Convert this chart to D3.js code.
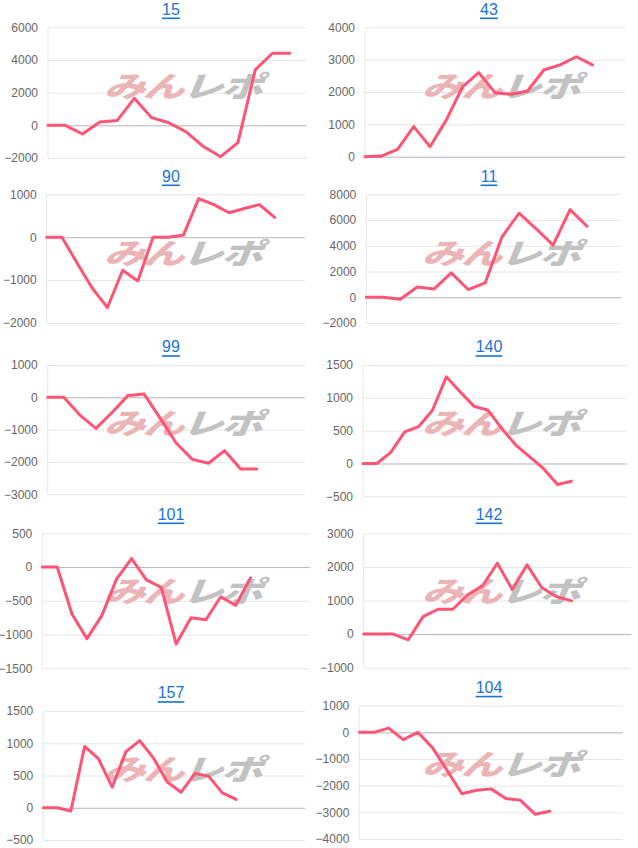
<!DOCTYPE html>
<html><head><meta charset="utf-8">
<script src="https://cdn.jsdelivr.net/npm/d3@7"></script>
<style>
html,body{margin:0;padding:0;background:#fff;}
svg{display:block;}
</style></head>
<body>
<svg id="c" width="638" height="848"></svg>
<script>
// ---- data ----
const titles = ["15","43","90","11","99","140","101","142","157","104"];
const slots  = [16,17,18,16,17,20,19,19,20,19];
const values15  = [0,0,-530,200,290,1650,470,160,-400,-1300,-1920,-1060,3390,4410,4410];
const values43  = [0,20,230,930,310,1130,2160,2600,1980,1930,2030,2680,2840,3090,2840];
const values90  = [0,0,-600,-1190,-1640,-770,-1020,0,0,50,900,760,570,670,760,460];
const values11  = [0,0,-150,800,650,1890,600,1110,4720,6530,5320,4050,6810,5520];
const values99  = [0,0,-550,-960,-470,60,100,-650,-1420,-1920,-2040,-1650,-2220,-2220];
const values140 = [0,0,170,480,560,810,1320,1090,870,810,530,280,100,-80,-320,-270];
const values101 = [0,0,-700,-1060,-720,-175,125,-190,-300,-1140,-750,-780,-440,-570,-160];
const values142 = [0,0,0,-170,520,740,740,1170,1440,2110,1330,2060,1380,1110,990];
const values157 = [0,0,-50,950,760,320,870,1040,770,400,240,530,490,230,130];
const values104 = [0,0,160,-270,0,-580,-1430,-2300,-2170,-2120,-2480,-2550,-3070,-2960];
const ticks15  = [-2000,0,2000,4000,6000];
const ticks43  = [0,1000,2000,3000,4000];
const ticks90  = [-2000,-1000,0,1000];
const ticks11  = [-2000,0,2000,4000,6000,8000];
const ticks99  = [-3000,-2000,-1000,0,1000];
const ticks140 = [-500,0,500,1000,1500];
const ticks101 = [-1500,-1000,-500,0,500];
const ticks142 = [-1000,0,1000,2000,3000];
const ticks157 = [-500,0,500,1000,1500];
const ticks104 = [-4000,-3000,-2000,-1000,0,1000];

const seriesList = [values15,values43,values90,values11,values99,values140,values101,values142,values157,values104];
const tickList   = [ticks15,ticks43,ticks90,ticks11,ticks99,ticks140,ticks101,ticks142,ticks157,ticks104];

// ---- layout (plot rectangles: left, right, top, bottom; title y) ----
const layout = [
  {l:48,   r:307, t:27.3,  b:158,   ty:9,     cx:0},
  {l:365,  r:625, t:27.3,  b:156.7, ty:9,     cx:318},
  {l:46.7, r:305, t:194.3, b:323,   ty:176,   cx:0},
  {l:366.3,r:621, t:194.3, b:323,   ty:176,   cx:318},
  {l:47.7, r:305, t:365,   b:494.3, ty:346.7, cx:0},
  {l:363,  r:627, t:365,   b:496.3, ty:346.7, cx:318},
  {l:42.3, r:310, t:533.3, b:668.3, ty:514,   cx:0},
  {l:363.7,r:631, t:533.3, b:667.7, ty:514,   cx:318},
  {l:43.3, r:305, t:711,   b:840,   ty:692.7, cx:0},
  {l:359.3,r:623, t:705.7, b:839,   ty:687.3, cx:318}
];

const svg = d3.select("#c");
const lineColor = "#ff5473";

titles.forEach((title, i) => {
  const L = layout[i];
  const vals = seriesList[i];
  const tks = tickList[i];
  const g = svg.append("g");

  const x = d3.scaleLinear().domain([0, slots[i]-1]).range([L.l, L.r]);
  const y = d3.scaleLinear().domain(d3.extent(tks)).range([L.b, L.t]);

  const axis = d3.axisLeft(y).tickValues(tks).tickSize(-(L.r - L.l)).tickPadding(10).tickFormat(d3.format("d"));
  const ag = g.append("g").attr("transform", `translate(${L.l},0)`).call(axis);
  ag.select(".domain").remove();
  ag.selectAll(".tick line").attr("stroke", d => d === 0 ? "#b5b5b5" : "#e6e6e6").attr("stroke-width", 1);
  ag.selectAll(".tick text").attr("fill", "#666").attr("font-family", "Arial, 'Liberation Sans', sans-serif").attr("font-size", 12);
  g.append("line").attr("x1", L.l).attr("x2", L.l).attr("y1", L.t).attr("y2", L.b).attr("stroke", "#e6e6e6");

  // watermark
  const wm = g.append("text")
    .attr("transform", `translate(${L.cx + 187},${L.ty + 75}) scale(1.15,0.8) skewX(-16)`)
    .attr("text-anchor", "middle").attr("dominant-baseline", "central")
    .attr("font-family", "'Noto Sans CJK JP', sans-serif").attr("font-weight", 900)
    .attr("font-size", 36).attr("letter-spacing", -2);
  wm.append("tspan").attr("fill", "#ebb5b7").text("みん");
  wm.append("tspan").attr("fill", "#c2c2c2").text("レポ");

  const line = d3.line().x((d, k) => x(k)).y(d => y(d));
  g.append("path").datum(vals).attr("d", line)
    .attr("fill", "none").attr("stroke", lineColor).attr("stroke-width", 3)
    .attr("stroke-linejoin", "round").attr("stroke-linecap", "round");

  g.append("text").attr("x", L.cx + 171).attr("y", L.ty).attr("text-anchor", "middle")
    .attr("dominant-baseline", "central")
    .attr("font-family", "Arial, 'Liberation Sans', sans-serif").attr("font-size", 16)
    .attr("fill", "#1a73d9").attr("text-decoration", "underline").text(title);
});
</script>
</body></html>
